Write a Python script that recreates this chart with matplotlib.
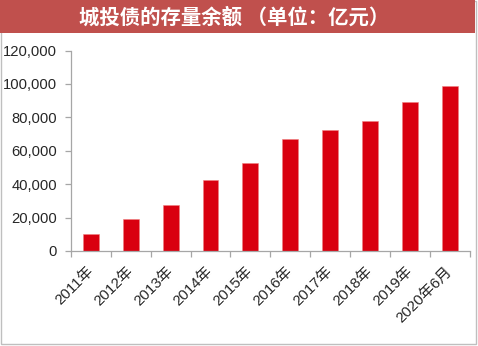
import matplotlib
matplotlib.use("Agg")
import matplotlib.pyplot as plt
from matplotlib.patches import Rectangle
from matplotlib.ticker import FuncFormatter, FixedLocator

plt.rcParams['font.family'] = ['Liberation Sans', 'Noto Sans CJK SC', 'DejaVu Sans']

# 城投债存量余额（亿元）
categories = ["2011年", "2012年", "2013年", "2014年", "2015年",
              "2016年", "2017年", "2018年", "2019年", "2020年6月"]
balance = [10100, 18900, 27300, 42200, 52500, 67300, 72200, 78000, 89000, 98700]
y_ticks = [0, 20000, 40000, 60000, 80000, 100000, 120000]
title = "城投债的存量余额 （单位：亿元）"

W, H = 478, 346
fig = plt.figure(figsize=(W / 100, H / 100), dpi=100)

# outer frame and title banner
fig.patches.append(Rectangle((0.5 / W, 1 - 344 / H), 475.5 / W, 343.5 / H,
                             transform=fig.transFigure, fill=False,
                             edgecolor="#BFBFBF", linewidth=1.0, zorder=0))
fig.patches.append(Rectangle((0, 1 - 33 / H), 475 / W, 33 / H,
                             transform=fig.transFigure, facecolor="#C0504D",
                             edgecolor="none", zorder=1))
fig.text(234 / W, 1 - 17 / H, title, color="white", fontsize=14.7,
         fontweight="bold", ha="center", va="center",
         family=["Noto Sans CJK SC", "DejaVu Sans"])

ax = fig.add_axes([71 / W, (H - 251) / H, (469.5 - 71) / W, (251 - 50.5) / H])
x = list(range(len(categories)))
ax.bar(x, balance, width=0.4, color="#D9000F", edgecolor="#F08080",
       linewidth=0.4, zorder=2)

ax.set_xlim(-0.5, len(categories) - 0.5)
ax.set_ylim(0, 120000)
ax.set_yticks(y_ticks)
ax.yaxis.set_major_formatter(FuncFormatter(lambda v, p: f"{int(v):,}"))

for side in ("top", "right"):
    ax.spines[side].set_visible(False)
for side in ("left", "bottom"):
    ax.spines[side].set_color("#A6A6A6")
    ax.spines[side].set_linewidth(0.9)

ax.tick_params(axis="y", direction="out", length=4, width=0.9, color="#A6A6A6",
               labelsize=10.6, labelcolor="#262626", pad=6)

ax.set_xticks(x)
ax.set_xticklabels(categories, rotation=45, ha="right", va="center",
                   rotation_mode="anchor", fontsize=10.8, color="#262626",
                   family=["Liberation Sans", "Noto Sans CJK SC"])
ax.tick_params(axis="x", which="major", length=0, pad=13)
ax.xaxis.set_minor_locator(FixedLocator([i - 0.5 for i in range(len(categories) + 1)]))
ax.tick_params(axis="x", which="minor", direction="out", length=4, width=0.9,
               color="#A6A6A6")

fig.savefig("out.png", dpi=100)
